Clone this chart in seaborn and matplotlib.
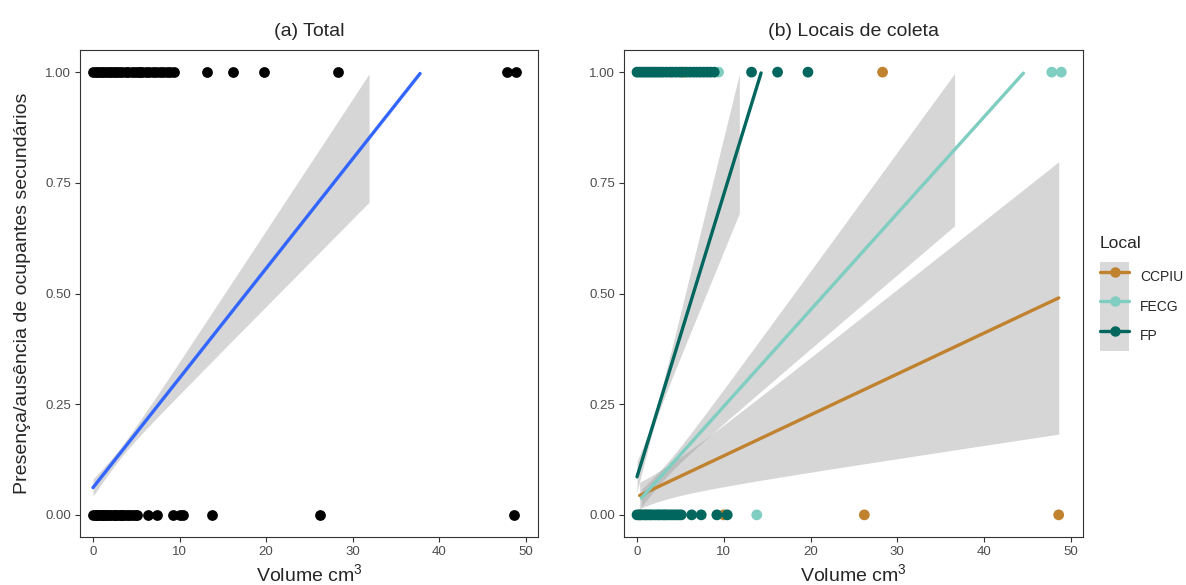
import numpy as np
import pandas as pd
import seaborn as sns
import matplotlib.pyplot as plt
from matplotlib.lines import Line2D
from matplotlib.patches import Patch

# volumes (cm3) por local, presença (1) / ausência (0) de ocupantes secundários
ccpiu_pres = [5.4, 28.3]
ccpiu_aus = [0.3, 1.0, 10.0, 26.2, 48.6]
fecg_pres = [9.4, 47.8, 48.9]
fecg_aus = [0.5, 1.5, 2.5, 3.2, 13.8]
fp_pres = [0.0, 0.3, 0.6, 0.9, 1.2, 1.5, 1.8, 2.1, 2.4, 2.7, 3.0, 3.4, 3.8, 4.1,
           4.5, 4.9, 5.2, 5.7, 6.1, 6.5, 6.9, 7.3, 7.7, 8.1, 8.5, 8.9,
           13.2, 16.2, 19.7]
fp_aus = [0.0, 0.3, 0.6, 0.9, 1.2, 1.5, 1.8, 2.1, 2.4, 2.7, 3.0, 3.3, 3.6, 3.9,
          4.2, 4.5, 4.8, 5.1, 6.3, 7.4, 9.2, 10.4]

locais = ['CCPIU', 'FECG', 'FP']
cores = ['#C0822F', '#80CDC1', '#01665E']

# ajustes lineares (intercepto, inclinação, média de x,
# meia-largura do IC na média, meia-largura por unidade de x)
ajuste_nome = ['Total', 'CCPIU', 'FECG', 'FP']
ajuste_a = [0.0615, 0.041, 0.027, 0.086]
ajuste_b = [0.02476, 0.00924, 0.0218, 0.0638]
ajuste_xm = [3.0, 0.0, 3.0, 2.0]
ajuste_s0 = [0.012, 0.030, 0.015, 0.012]
ajuste_c = [0.0050, 0.0063, 0.0051, 0.0160]

# montar tabela
linhas = []
for loc, pres, aus in zip(locais, [ccpiu_pres, fecg_pres, fp_pres],
                          [ccpiu_aus, fecg_aus, fp_aus]):
    for v in pres:
        linhas.append((loc, v, 1.0))
    for v in aus:
        linhas.append((loc, v, 0.0))
df = pd.DataFrame(linhas, columns=['Local', 'Volume', 'Presenca'])

sns.set_style('white')
plt.rcParams['font.family'] = ['Liberation Sans', 'DejaVu Sans']
plt.rcParams['mathtext.default'] = 'regular'

fig = plt.figure(figsize=(11.86, 5.85), dpi=100)
ax1 = fig.add_axes([80 / 1186, 1 - 537 / 585, 458 / 1186, 487 / 585])
ax2 = fig.add_axes([624 / 1186, 1 - 537 / 585, 459 / 1186, 487 / 585])


def faixa(ax, nome, xs, cor):
    i = ajuste_nome.index(nome)
    x = np.linspace(min(xs), max(xs), 300)
    yhat = ajuste_a[i] + ajuste_b[i] * x
    meia = np.sqrt(ajuste_s0[i] ** 2 + (ajuste_c[i] * (x - ajuste_xm[i])) ** 2)
    lo, hi = yhat - meia, yhat + meia
    ok = (hi <= 1) & (lo >= 0)
    ax.fill_between(x, lo, hi, where=ok, color='#999999', alpha=0.4,
                    linewidth=0, zorder=1.5)
    d = pd.DataFrame({'x': x, 'y': yhat})
    d = d[d['y'] <= 1]
    sns.lineplot(data=d, x='x', y='y', color=cor, linewidth=2.4, ax=ax,
                 zorder=2, estimator=None)


# (a) Total
sns.scatterplot(data=df, x='Volume', y='Presenca', color='black', s=60,
                linewidth=0, ax=ax1, zorder=1, legend=False)
faixa(ax1, 'Total', df['Volume'], '#3366FF')

# (b) Locais de coleta
sns.scatterplot(data=df, x='Volume', y='Presenca', hue='Local',
                palette=dict(zip(locais, cores)), s=60, linewidth=0, ax=ax2,
                zorder=1, legend=False)
for loc, cor in zip(locais, cores):
    faixa(ax2, loc, df.loc[df['Local'] == loc, 'Volume'], cor)

for ax, titulo in [(ax1, '(a) Total'), (ax2, '(b) Locais de coleta')]:
    ax.set_xlim(-1.5, 51.4)
    ax.set_ylim(-0.05, 1.05)
    ax.set_xticks([0, 10, 20, 30, 40, 50])
    ax.set_yticks([0, 0.25, 0.5, 0.75, 1.0])
    ax.set_yticklabels(['0.00', '0.25', '0.50', '0.75', '1.00'])
    ax.set_title(titulo, fontsize=14, pad=10)
    ax.set_xlabel('Volume cm$^3$', fontsize=14, labelpad=4)
    ax.set_ylabel('')
    ax.tick_params(axis='both', length=3.5, width=0.8, color='#333333',
                   labelsize=9.5, labelcolor='#4D4D4D', pad=3, bottom=True, left=True)
    for sp in ax.spines.values():
        sp.set_color('#333333')
        sp.set_linewidth(0.8)

ax1.set_ylabel('Presença/ausência de ocupantes secundários', fontsize=14,
               labelpad=10)

alcas = [(Patch(facecolor='#D9D9D9', edgecolor='none'),
          Line2D([], [], color=c, lw=2.4, marker='o', markersize=6.5))
         for c in cores]
leg = ax2.legend(alcas, locais, loc='center left', bbox_to_anchor=(1.025, 0.5),
                 frameon=False, handlelength=2.1, handleheight=2.9,
                 labelspacing=0, borderaxespad=0, title='Local', fontsize=10,
                 title_fontsize=12.5, alignment='left', handletextpad=0.8)
leg._legend_box.sep = 8

fig.savefig('out.png', dpi=100)
